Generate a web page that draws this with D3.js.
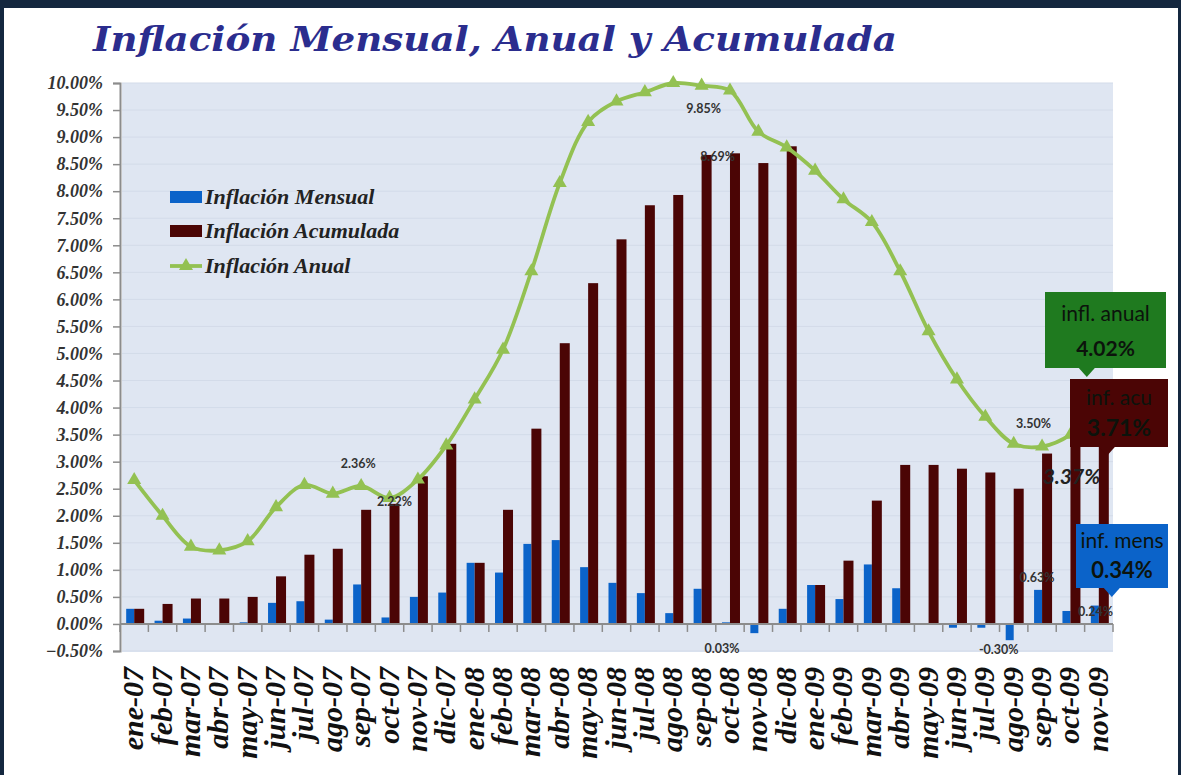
<!DOCTYPE html>
<html>
<head>
<meta charset="utf-8">
<script src="https://cdn.jsdelivr.net/npm/d3@7"></script>
<style>
  body { margin: 0; background: #fff; }
  svg { display: block; }
</style>
</head>
<body>
<script>
var width = 1181,
    height = 775;

var months = ["ene-07","feb-07","mar-07","abr-07","may-07","jun-07","jul-07","ago-07","sep-07","oct-07","nov-07","dic-07",
              "ene-08","feb-08","mar-08","abr-08","may-08","jun-08","jul-08","ago-08","sep-08","oct-08","nov-08","dic-08",
              "ene-09","feb-09","mar-09","abr-09","may-09","jun-09","jul-09","ago-09","sep-09","oct-09","nov-09"];

var mensual = [0.28,0.06,0.10,0.00,0.03,0.39,0.42,0.08,0.73,0.12,0.50,0.58,
               1.13,0.95,1.48,1.55,1.05,0.76,0.57,0.20,0.65,0.03,-0.17,0.28,
               0.72,0.46,1.10,0.66,0.01,-0.07,-0.07,-0.30,0.63,0.24,0.34];

var acumulada = [0.28,0.37,0.47,0.47,0.50,0.88,1.28,1.39,2.11,2.22,2.73,3.33,
                 1.13,2.11,3.61,5.19,6.30,7.11,7.74,7.93,8.67,8.70,8.52,8.83,
                 0.72,1.17,2.28,2.94,2.94,2.87,2.80,2.50,3.15,3.37,3.71];

var anual = [2.66,2.00,1.43,1.36,1.53,2.16,2.57,2.41,2.55,2.33,2.67,3.30,
             4.15,5.07,6.52,8.15,9.28,9.66,9.83,10.0,9.95,9.86,9.10,8.81,
             8.38,7.85,7.43,6.52,5.41,4.52,3.83,3.33,3.28,3.50,4.02];

var yTicks = d3.range(-0.5, 10.001, 0.5);

var legendNames = ["Inflación Mensual", "Inflación Acumulada", "Inflación Anual"];

// data labels shown in the chart: [series, month, text]
var labels = [
  ["anual", "sep-07", "2.36%"],
  ["acu", "oct-07", "2.22%"],
  ["anual", "sep-08", "9.85%"],
  ["acu", "sep-08", "8.69%"],
  ["mens", "oct-08", "0.03%"],
  ["mens", "ago-09", "-0.30%"],
  ["anual", "oct-09", "3.50%"],
  ["acu", "oct-09", "3.37%"],
  ["mens", "sep-09", "0.63%"],
  ["mens", "oct-09", "0.24%"]
];

var blue = "#0b63c9", maroon = "#4b0505", green = "#93c152";

var svg = d3.select("body").append("svg")
    .attr("width", width)
    .attr("height", height);

// frame
svg.append("rect").attr("x", 0).attr("y", 0).attr("width", width).attr("height", height).attr("fill", "#fff");
svg.append("rect").attr("x", 0).attr("y", 0).attr("width", width).attr("height", 8).attr("fill", "#14273f");
svg.append("rect").attr("x", 0).attr("y", 0).attr("width", 4).attr("height", height).attr("fill", "#14273f");
svg.append("rect").attr("x", width - 3).attr("y", 0).attr("width", 3).attr("height", height).attr("fill", "#14273f");

// title
svg.append("text")
    .attr("x", 93).attr("y", 51)
    .attr("textLength", 804).attr("lengthAdjust", "spacingAndGlyphs")
    .style("font-family", "'DejaVu Serif', serif")
    .style("font-weight", "bold").style("font-style", "italic")
    .style("font-size", "33px")
    .style("fill", "#2b2d8e")
    .text("Inflación Mensual, Anual y Acumulada");

var x = d3.scaleBand().domain(months).range([120, 1113]).padding(0);
var y = d3.scaleLinear().domain([-0.5, 10]).range([651, 83]);
var cx = function(m) { return x(m) + x.bandwidth() / 2; };

// plot background + grid
svg.append("rect")
    .attr("x", 122).attr("y", y(10))
    .attr("width", 1113 - 122).attr("height", y(-0.5) - y(10) + 1)
    .attr("fill", "#dfe6f2");

svg.selectAll(".grid").data(yTicks).enter().append("line")
    .attr("x1", 122).attr("x2", 1113)
    .attr("y1", function(d) { return y(d); }).attr("y2", function(d) { return y(d); })
    .attr("stroke", "#d3dbe9").attr("stroke-width", 1);

// y axis
var yAxis = svg.append("g")
    .attr("transform", "translate(120,0)")
    .call(d3.axisLeft(y).tickValues(yTicks).tickSize(7).tickPadding(10)
      .tickFormat(function(d) { return d3.format(".2f")(d) + "%"; }));
yAxis.select(".domain").attr("stroke", "#8c8c8c").attr("stroke-width", 2);
yAxis.selectAll(".tick line").attr("stroke", "#8c8c8c").attr("stroke-width", 1.5);
yAxis.selectAll(".tick text")
    .style("font-family", "'Liberation Serif', serif")
    .style("font-weight", "bold").style("font-style", "italic")
    .style("font-size", "18px").style("fill", "#333");

// bars
var idx = d3.range(months.length);

svg.selectAll(".mens").data(idx).enter().append("rect")
    .attr("class", "mens")
    .attr("x", function(i) { return cx(months[i]) - 8; })
    .attr("width", 8)
    .attr("y", function(i) { return y(Math.max(0, mensual[i])); })
    .attr("height", function(i) { return Math.abs(y(mensual[i]) - y(0)); })
    .attr("fill", blue);

svg.selectAll(".acu").data(idx).enter().append("rect")
    .attr("class", "acu")
    .attr("x", function(i) { return cx(months[i]); })
    .attr("width", 10)
    .attr("y", function(i) { return y(acumulada[i]); })
    .attr("height", function(i) { return y(0) - y(acumulada[i]); })
    .attr("fill", maroon);

// x axis
var xAxis = svg.append("g");
xAxis.append("line")
    .attr("x1", 120).attr("x2", 1113)
    .attr("y1", y(0)).attr("y2", y(0))
    .attr("stroke", "#8c8c8c").attr("stroke-width", 2);
xAxis.selectAll(".xt").data(months.concat(["end"])).enter().append("line")
    .attr("x1", function(d) { return d === "end" ? 1113 : x(d); })
    .attr("x2", function(d) { return d === "end" ? 1113 : x(d); })
    .attr("y1", y(0)).attr("y2", y(0) + 8)
    .attr("stroke", "#8c8c8c").attr("stroke-width", 1.5);

svg.selectAll(".xl").data(months).enter().append("text")
    .attr("transform", function(d) { return "translate(" + (cx(d) + 9) + ",667) rotate(-90)"; })
    .attr("text-anchor", "end")
    .style("font-family", "'Liberation Serif', serif")
    .style("font-weight", "bold").style("font-style", "italic")
    .style("font-size", "30px").style("fill", "#111")
    .text(function(d) { return d; });

// annual line
svg.append("clipPath").attr("id", "plotclip")
  .append("rect").attr("x", 120).attr("y", y(10) - 6).attr("width", 1000).attr("height", 580);

var line = d3.line()
    .x(function(i) { return cx(months[i]); })
    .y(function(i) { return y(anual[i]); })
    .curve(d3.curveCatmullRom.alpha(0.5));

svg.append("path")
    .datum(idx)
    .attr("clip-path", "url(#plotclip)")
    .attr("d", line)
    .attr("fill", "none")
    .attr("stroke", green)
    .attr("stroke-width", 3.8);

var tri = d3.symbol().type(d3.symbolTriangle).size(85);
svg.selectAll(".mk").data(idx).enter().append("path")
    .attr("transform", function(i) { return "translate(" + cx(months[i]) + "," + y(anual[i]) + ")"; })
    .attr("d", tri)
    .attr("fill", green);

// legend
var legend = svg.append("g").attr("transform", "translate(170,0)");
var legY = [197, 231, 266];
legend.append("rect").attr("x", 0).attr("y", legY[0] - 6).attr("width", 32).attr("height", 12).attr("fill", blue);
legend.append("rect").attr("x", 0).attr("y", legY[1] - 6).attr("width", 32).attr("height", 12).attr("fill", maroon);
legend.append("line").attr("x1", 0).attr("x2", 32).attr("y1", legY[2]).attr("y2", legY[2])
    .attr("stroke", green).attr("stroke-width", 3.8);
legend.append("path").attr("transform", "translate(16," + legY[2] + ")").attr("d", tri).attr("fill", green);
legend.selectAll(".lt").data(legendNames).enter().append("text")
    .attr("x", 35)
    .attr("y", function(d, i) { return legY[i] + 7; })
    .style("font-family", "'Liberation Serif', serif")
    .style("font-weight", "bold").style("font-style", "italic")
    .style("font-size", "22px").style("fill", "#222")
    .text(function(d) { return d; });

// data labels
var series = { mens: mensual, acu: acumulada, anual: anual };
var offs = {
  "2.36%": [-3, -18], "2.22%": [5, 2], "9.85%": [2, 27], "8.69%": [16, 6],
  "0.03%": [-8, 31], "-0.30%": [-15, 30], "3.50%": [-37, -7], "3.37%": [1, 42],
  "0.63%": [-5, -8], "0.24%": [25, 5]
};
svg.selectAll(".dl").data(labels).enter().append("text")
    .attr("x", function(d) { return cx(d[1]) + offs[d[2]][0]; })
    .attr("y", function(d) {
      var v = series[d[0]][months.indexOf(d[1])];
      return y(Math.max(0, v)) + offs[d[2]][1];
    })
    .attr("text-anchor", "middle")
    .style("font-family", "Lato, sans-serif")
    .style("font-weight", "bold")
    .style("font-style", function(d) { return d[2] === "3.37%" ? "italic" : "normal"; })
    .style("font-size", function(d) { return d[2] === "3.37%" ? "21px" : "12.5px"; })
    .style("fill", function(d) { return d[2] === "3.37%" ? "#222" : "#333"; })
    .text(function(d) { return d[2]; });

// callouts for the last month
var last = months[months.length - 1];
function callout(bx, by, bw, bh, px, fill, t1, t2, size2) {
  var g = svg.append("g");
  g.append("path")
    .attr("d", "M" + (px - 8) + "," + (by + bh) + "L" + px + "," + (by + bh + 9) + "L" + (px + 8) + "," + (by + bh) + "Z")
    .attr("fill", fill);
  g.append("rect").attr("x", bx).attr("y", by).attr("width", bw).attr("height", bh).attr("fill", fill);
  g.append("text").attr("x", bx + bw / 2).attr("y", by + bh * 0.38)
    .attr("text-anchor", "middle")
    .style("font-family", "Lato, sans-serif").style("font-size", "21px").style("fill", "#0c130c")
    .text(t1);
  g.append("text").attr("x", bx + bw / 2).attr("y", by + bh * 0.84)
    .attr("text-anchor", "middle")
    .style("font-family", "Lato, sans-serif").style("font-weight", "bold")
    .style("font-size", size2).style("fill", "#0c130c")
    .text(t2);
}
var iLast = months.length - 1;
callout(1045, 292, 121, 76, cx(last) - 12, "#1f7a1f", "infl. anual", d3.format(".2f")(anual[iLast]) + "%", "21px");
callout(1070, 379, 98, 68, cx(last) + 8, maroon, "inf. acu", d3.format(".2f")(acumulada[iLast]) + "%", "23px");
callout(1076, 524, 92, 64, cx(last) + 13, blue, "inf. mens", d3.format(".2f")(mensual[iLast]) + "%", "22px");
</script>
</body>
</html>
